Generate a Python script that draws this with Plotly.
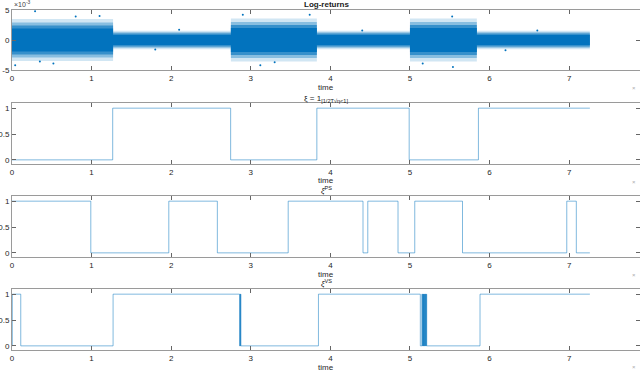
import plotly.graph_objects as go

# ---------------- data ----------------
# Panel 1: log-return regimes (times) and band half-widths (x1e-3)
regime_start = [0.0, 1.27, 2.75, 3.83, 5.0, 5.84]
regime_end = [1.27, 2.75, 3.83, 5.0, 5.84, 7.26]
# nested density bands of the point cloud: half-widths (x1e-3) per regime
band_outer = [3.5, 1.55, 3.6, 1.55, 3.6, 1.55]
band_mid = [2.9, 1.3, 3.0, 1.3, 3.0, 1.3]
band_inner = [2.4, 1.1, 2.5, 1.1, 2.5, 1.1]
band_core = [1.9, 0.85, 2.0, 0.85, 2.0, 0.85]
band_opacity = [0.18, 0.35, 0.6, 0.95]
outlier_t = [0.04, 0.29, 0.52, 0.8, 1.1, 2.9, 3.12, 3.74, 3.3, 5.16, 5.53, 5.54, 0.35, 2.1, 4.4, 6.6, 1.8, 6.2]
outlier_v = [-4.2, 4.8, -3.9, 3.9, 4.0, 4.2, -4.2, 4.2, -3.7, -3.9, 3.9, -4.5, -3.6, 1.7, 1.6, 1.6, -1.6, -1.7]

# Panel 2: xi indicator
xi_t = [0, 1.265, 2.747, 3.83, 4.99, 5.86, 7.26]
xi_v = [0, 1, 0, 1, 0, 1, 1]

# Panel 3: xi^PS
ps_t = [0, 0.99, 1.97, 2.58, 3.47, 4.41, 4.47, 4.85, 5.06, 5.66, 6.97, 7.09, 7.26]
ps_v = [1, 0, 1, 0, 1, 0, 1, 0, 1, 0, 1, 0, 0]

# Panel 4: xi^VS
vs_t = [0, 0.004, 0.11, 1.27, 2.86, 2.865, 2.868, 2.872, 2.875, 3.85,
        5.13, 5.15, 5.155, 5.16, 5.163, 5.167, 5.17, 5.174, 5.178, 5.182,
        5.186, 5.19, 5.194, 5.198, 5.202, 5.206, 5.21, 5.88, 7.26]
vs_v = [0, 1, 0, 1, 0, 1, 0, 1, 0, 1,
        0, 1, 0, 1, 0, 1, 0, 1, 0, 1,
        0, 1, 0, 1, 0, 1, 0, 1, 1]

x_ticks = [0, 1, 2, 3, 4, 5, 6, 7]
titles = ["<b>Log-returns</b>", "ξ = 1<sub>[1/2T√η&lt;1]</sub>", "<i>ξ</i><sup>PS</sup>", "<i>ξ</i><sup>VS</sup>"]

# ---------------- layout helpers ----------------
W, H = 640, 372
BLUE = "#0072BD"
AX = "#9a9a9a"
TXT = "#262626"
FONT = "Liberation Sans, Arial, sans-serif"

def py(p):
    return 1 - p / H

panels_px = [(10, 70), (103, 164), (196, 257), (289, 350)]
title_px = [5, 99, 190, 283]
time_px = [87, 180, 274, 367]
xdom = [12 / W, 1.0]

fig = go.Figure()

def band_xy(hw, scale):
    xs, ys = [], []
    for s, e, h in zip(regime_start, regime_end, hw):
        xs += [s, e]
        ys += [h * scale, h * scale]
    return xs, ys

for hw, op in zip([band_outer, band_mid, band_inner, band_core], band_opacity):
    xs, yu = band_xy(hw, 1e-3)
    _, yl = band_xy(hw, -1e-3)
    fig.add_trace(go.Scatter(x=xs, y=yu, mode="lines", line=dict(width=0, color=BLUE),
                             xaxis="x", yaxis="y", showlegend=False, hoverinfo="skip"))
    fig.add_trace(go.Scatter(x=xs, y=yl, mode="lines", line=dict(width=0, color=BLUE),
                             fill="tonexty", fillcolor=f"rgba(0,114,189,{op})",
                             xaxis="x", yaxis="y", showlegend=False, hoverinfo="skip"))

fig.add_trace(go.Scatter(x=outlier_t, y=[v * 1e-3 for v in outlier_v], mode="markers",
                         marker=dict(size=2, color=BLUE), xaxis="x", yaxis="y", showlegend=False))

for i, (tt, vv) in enumerate([(xi_t, xi_v), (ps_t, ps_v), (vs_t, vs_v)], start=2):
    fig.add_trace(go.Scatter(x=tt, y=vv, mode="lines", line=dict(shape="hv", width=0.5, color=BLUE),
                             xaxis=f"x{i}", yaxis=f"y{i}", showlegend=False))

layout = dict(width=W, height=H, margin=dict(l=0, r=0, t=0, b=0, autoexpand=False),
              paper_bgcolor="white", plot_bgcolor="white",
              font=dict(family=FONT, size=8, color=TXT))

annotations = []
for k, (top, bot) in enumerate(panels_px):
    idx = "" if k == 0 else str(k + 1)
    layout[f"xaxis{idx}"] = dict(domain=xdom, range=[0, 7.89], anchor=f"y{idx}",
                                 tickvals=x_ticks, ticks="inside", ticklen=4, tickcolor="#666",
                                 showline=True, linecolor=AX, linewidth=1, mirror="ticks",
                                 showgrid=False, zeroline=False, automargin=False,
                                 tickfont=dict(size=8, color=TXT))
    if k == 0:
        yax = dict(range=[-5e-3, 5e-3], tickvals=[-5e-3, 0, 5e-3], ticktext=["-5", "0", "5"])
    else:
        yax = dict(range=[-0.08, 1.1], tickvals=[0, 0.5, 1], ticktext=["0", "0.5", "1"])
    yax.update(domain=[py(bot), py(top)], anchor=f"x{idx}", ticks="inside", ticklen=4,
               tickcolor="#666", showline=True, linecolor=AX, linewidth=1, mirror="ticks",
               showgrid=False, zeroline=False, automargin=False, tickfont=dict(size=8, color=TXT))
    layout[f"yaxis{idx}"] = yax
    annotations.append(dict(text=titles[k], x=(xdom[0] + xdom[1]) / 2, y=py(title_px[k]),
                            xref="paper", yref="paper", showarrow=False,
                            xanchor="center", yanchor="middle",
                            font=dict(size=8, color="#1a1a1a")))
    annotations.append(dict(text="time", x=(xdom[0] + xdom[1]) / 2, y=py(time_px[k]),
                            xref="paper", yref="paper", showarrow=False,
                            xanchor="center", yanchor="middle",
                            font=dict(size=8, color=TXT)))

annotations.append(dict(text="×10<sup>-3</sup>", x=12 / W, y=py(4), xref="paper", yref="paper",
                        showarrow=False, xanchor="left", yanchor="middle", font=dict(size=7, color="#444")))
for yy in [88, 182, 275, 367]:
    annotations.append(dict(text="×", x=634 / W, y=py(yy), xref="paper", yref="paper",
                            showarrow=False, xanchor="center", yanchor="middle",
                            font=dict(size=6, color="#aaaaaa")))
layout["annotations"] = annotations
fig.update_layout(**layout)
fig.write_html("out.html", config={"displayModeBar": False, "staticPlot": True},
               post_script="document.body.style.margin='0';document.body.style.padding='0';"
                           "document.body.style.overflow='hidden';")
